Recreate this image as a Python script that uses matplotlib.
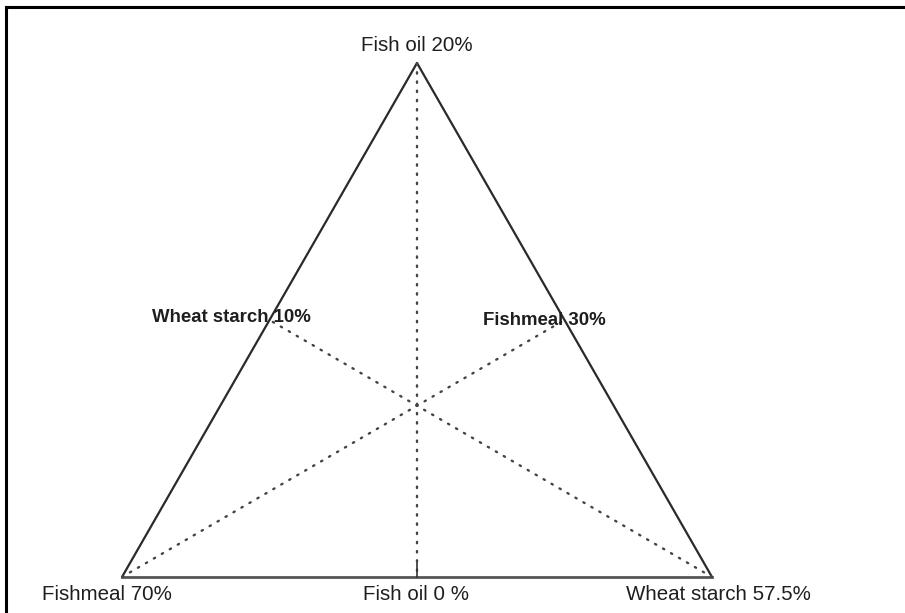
import numpy as np
import matplotlib
matplotlib.use("Agg")
import matplotlib.pyplot as plt
from matplotlib.lines import Line2D

# mixture components, one per vertex (bottom-left, bottom-right, top)
components = ["Fishmeal", "Wheat starch", "Fish oil"]
max_levels = ["70%", "57.5%", "20%"]    # level at the vertex
min_levels = ["30%", "10%", "0 %"]      # level at the opposite side midpoint

plt.rcParams['font.family'] = ['Liberation Sans', 'DejaVu Sans']


def to_xy(p):
    # ternary (fishmeal, wheat starch, fish oil) -> cartesian
    p = np.asarray(p, dtype=float)
    p = p / p.sum()
    return p[1] + p[2] / 2.0, p[2] * np.sqrt(3) / 2.0


def main():
    fig = plt.figure(figsize=(9.05, 6.13), dpi=100)
    ax = fig.add_axes([0, 0, 1, 1])
    ax.set_xlim(-122 / 590, (905 - 122) / 590)
    ax.set_ylim(-36 / 593.5, (613 - 36) / 593.5)
    ax.axis("off")

    verts = np.eye(3)
    vx, vy = zip(*[to_xy(v) for v in verts])

    # sides of the simplex
    ax.plot([vx[0], vx[2], vx[1]], [vy[0], vy[2], vy[1]], color="#2a2a2a", lw=1.6,
            solid_capstyle="butt")
    ax.plot([vx[0], vx[1]], [vy[0], vy[1]], color="#555555", lw=2.0)

    vert_off = [(-15, -17), (6, -17), (0, 18)]
    for i in range(3):
        others = [j for j in range(3) if j != i]
        mid = (verts[others[0]] + verts[others[1]]) / 2.0
        mx, my = to_xy(mid)
        # median from vertex to opposite midpoint
        ax.plot([vx[i], mx], [vy[i], my], color="#444444", lw=1.7,
                linestyle=(0, (0.6, 3.3)), dash_capstyle="round")
        ax.annotate(components[i] + " " + max_levels[i], (vx[i], vy[i]),
                    xytext=vert_off[i], textcoords="offset pixels",
                    ha="center", va="center", fontsize=14.8, color="#1e1e1e")
        if i == 2:
            ax.plot([mx, mx], [my, my + 14 / 593.5], color="#333333", lw=1.2)
            ax.annotate(components[i] + " " + min_levels[i], (mx, my),
                        xytext=(-1, -18), textcoords="offset pixels",
                        ha="center", va="center", fontsize=14.8, color="#1e1e1e")
        else:
            ax.annotate(components[i] + " " + min_levels[i], (mx, my),
                        xytext=(41, 3 if i == 1 else 0), textcoords="offset pixels",
                        ha="right", va="center", fontsize=13.4, fontweight="bold",
                        color="#1e1e1e")

    # frame of the original figure (top and left edges)
    W, H = 905.0, 613.0
    fig.add_artist(Line2D([6 / W, 1], [1 - 7 / H, 1 - 7 / H], color="black",
                          lw=2.2, transform=fig.transFigure))
    fig.add_artist(Line2D([6 / W, 6 / W], [0, 1 - 7 / H], color="black",
                          lw=2.2, transform=fig.transFigure))

    fig.savefig("out.png", dpi=100)
    plt.close(fig)


if __name__ == '__main__':
    main()
